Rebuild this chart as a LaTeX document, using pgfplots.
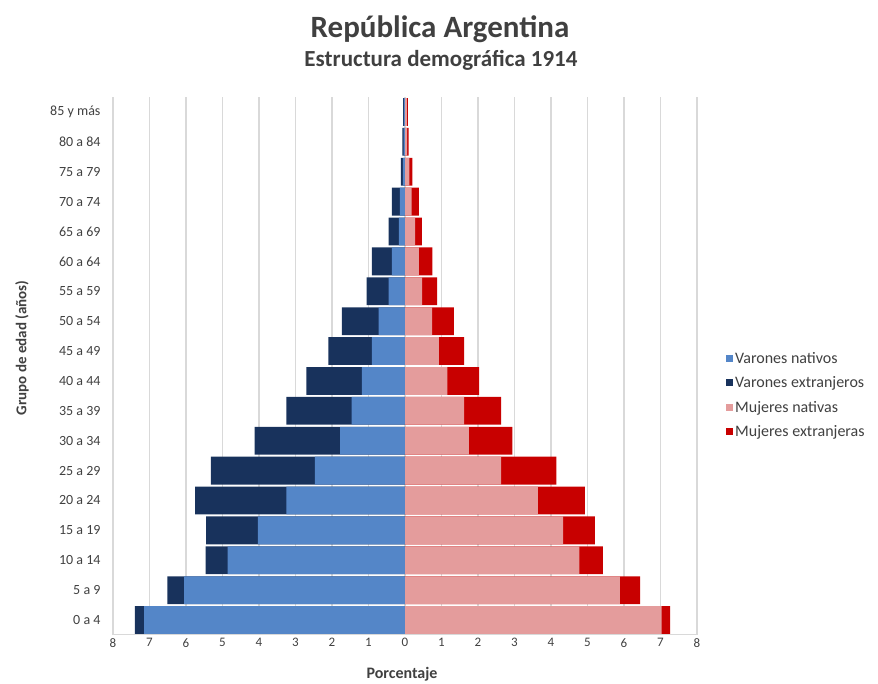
\documentclass[border=0pt]{standalone}
\usepackage{fontspec}
\setmainfont{Carlito}
\usepackage{pgfplots}
\usepackage{pgfplotstable}
\pgfplotsset{compat=1.18}

\definecolor{mnC}{RGB}{84,134,200}
\definecolor{mfC}{RGB}{24,50,92}
\definecolor{fnC}{RGB}{228,156,156}
\definecolor{ffC}{RGB}{200,0,0}
\definecolor{gridC}{RGB}{217,217,217}
\definecolor{txtC}{RGB}{64,64,64}

% percentages of total population, by age group
% mn/mf = male native/foreign, fn/ff = female native/foreign
\pgfplotstableread{
y  mn    mf    fn    ff
0  7.15  0.25  7.03  0.23
1  6.05  0.46  5.89  0.55
2  4.86  0.60  4.78  0.64
3  4.03  1.42  4.33  0.87
4  3.25  2.50  3.64  1.29
5  2.47  2.85  2.63  1.52
6  1.78  2.34  1.75  1.19
7  1.46  1.79  1.62  1.01
8  1.18  1.52  1.16  0.87
9  0.91  1.19  0.93  0.69
10 0.72  1.01  0.74  0.60
11 0.45  0.60  0.47  0.41
12 0.36  0.55  0.38  0.37
13 0.17  0.28  0.28  0.18
14 0.14  0.22  0.18  0.20
15 0.06  0.05  0.12  0.08
16 0.04  0.03  0.06  0.04
17 0.03  0.02  0.05  0.03
}\pyr

\begin{document}
\begin{tikzpicture}
\useasboundingbox (-113pt,-49pt) rectangle (765pt,635pt);
\begin{axis}[
  scale only axis,
  width=584pt, height=538pt,
  xmin=-8, xmax=8,
  ymin=-0.5, ymax=17.5,
  xbar, bar shift=0pt, bar width=0.93,
  xtick={-8,...,8},
  ytick={0,...,17},
  yticklabels={0 a 4,5 a 9,10 a 14,15 a 19,20 a 24,25 a 29,30 a 34,35 a 39,40 a 44,45 a 49,50 a 54,55 a 59,60 a 64,65 a 69,70 a 74,75 a 79,80 a 84,85 y más},
  /pgf/number format/assume math mode=true,
  xticklabel={\pgfmathparse{abs(\tick)}\pgfmathprintnumber{\pgfmathresult}},
  xticklabel style={font=\fontsize{13}{15}\selectfont, text=txtC},
  yticklabel style={font=\fontsize{14}{16}\selectfont, text=txtC, xshift=-9pt},
  major tick length=0pt,
  axis line style={draw=none},
  xmajorgrids,
  major grid style={gridC, line width=1.3pt},
  legend image code/.code={\fill[#1, draw=none] (0pt,-3.5pt) rectangle (7pt,3.5pt);},
  legend style={draw=none, at={(1,0.446)}, anchor=west, xshift=26pt,
    font=\fontsize{16}{19}\selectfont, text=txtC, row sep=8pt,
    cells={anchor=west}},
]
\addplot[fill=mfC, draw=none, forget plot] table[x expr={-(\thisrow{mn}+\thisrow{mf})}, y=y]{\pyr};
\addplot[fill=mnC, draw=none, forget plot] table[x expr={-\thisrow{mn}}, y=y]{\pyr};
\addplot[fill=ffC, draw=none, forget plot] table[x expr={\thisrow{fn}+\thisrow{ff}}, y=y]{\pyr};
\addplot[fill=fnC, draw=none, forget plot] table[x=fn, y=y]{\pyr};

\addlegendimage{fill=mnC}\addlegendentry{Varones nativos}
\addlegendimage{fill=mfC}\addlegendentry{Varones extranjeros}
\addlegendimage{fill=fnC}\addlegendentry{Mujeres nativas}
\addlegendimage{fill=ffC}\addlegendentry{Mujeres extranjeras}

\draw[gridC, line width=1.3pt] (rel axis cs:0,0) -- (rel axis cs:1,0);
\end{axis}
\node[font=\bfseries\fontsize{31}{34}\selectfont, text=txtC] at (327pt,606pt) {República Argentina};
\node[font=\bfseries\fontsize{23}{26}\selectfont, text=txtC] at (328pt,575pt) {Estructura demográfica 1914};
\node[rotate=90, font=\bfseries\fontsize{15}{17}\selectfont, text=txtC] at (-91pt,287pt) {Grupo de edad (años)};
\node[font=\bfseries\fontsize{16}{18}\selectfont, text=txtC] at (289pt,-39pt) {Porcentaje};
\end{tikzpicture}
\end{document}
